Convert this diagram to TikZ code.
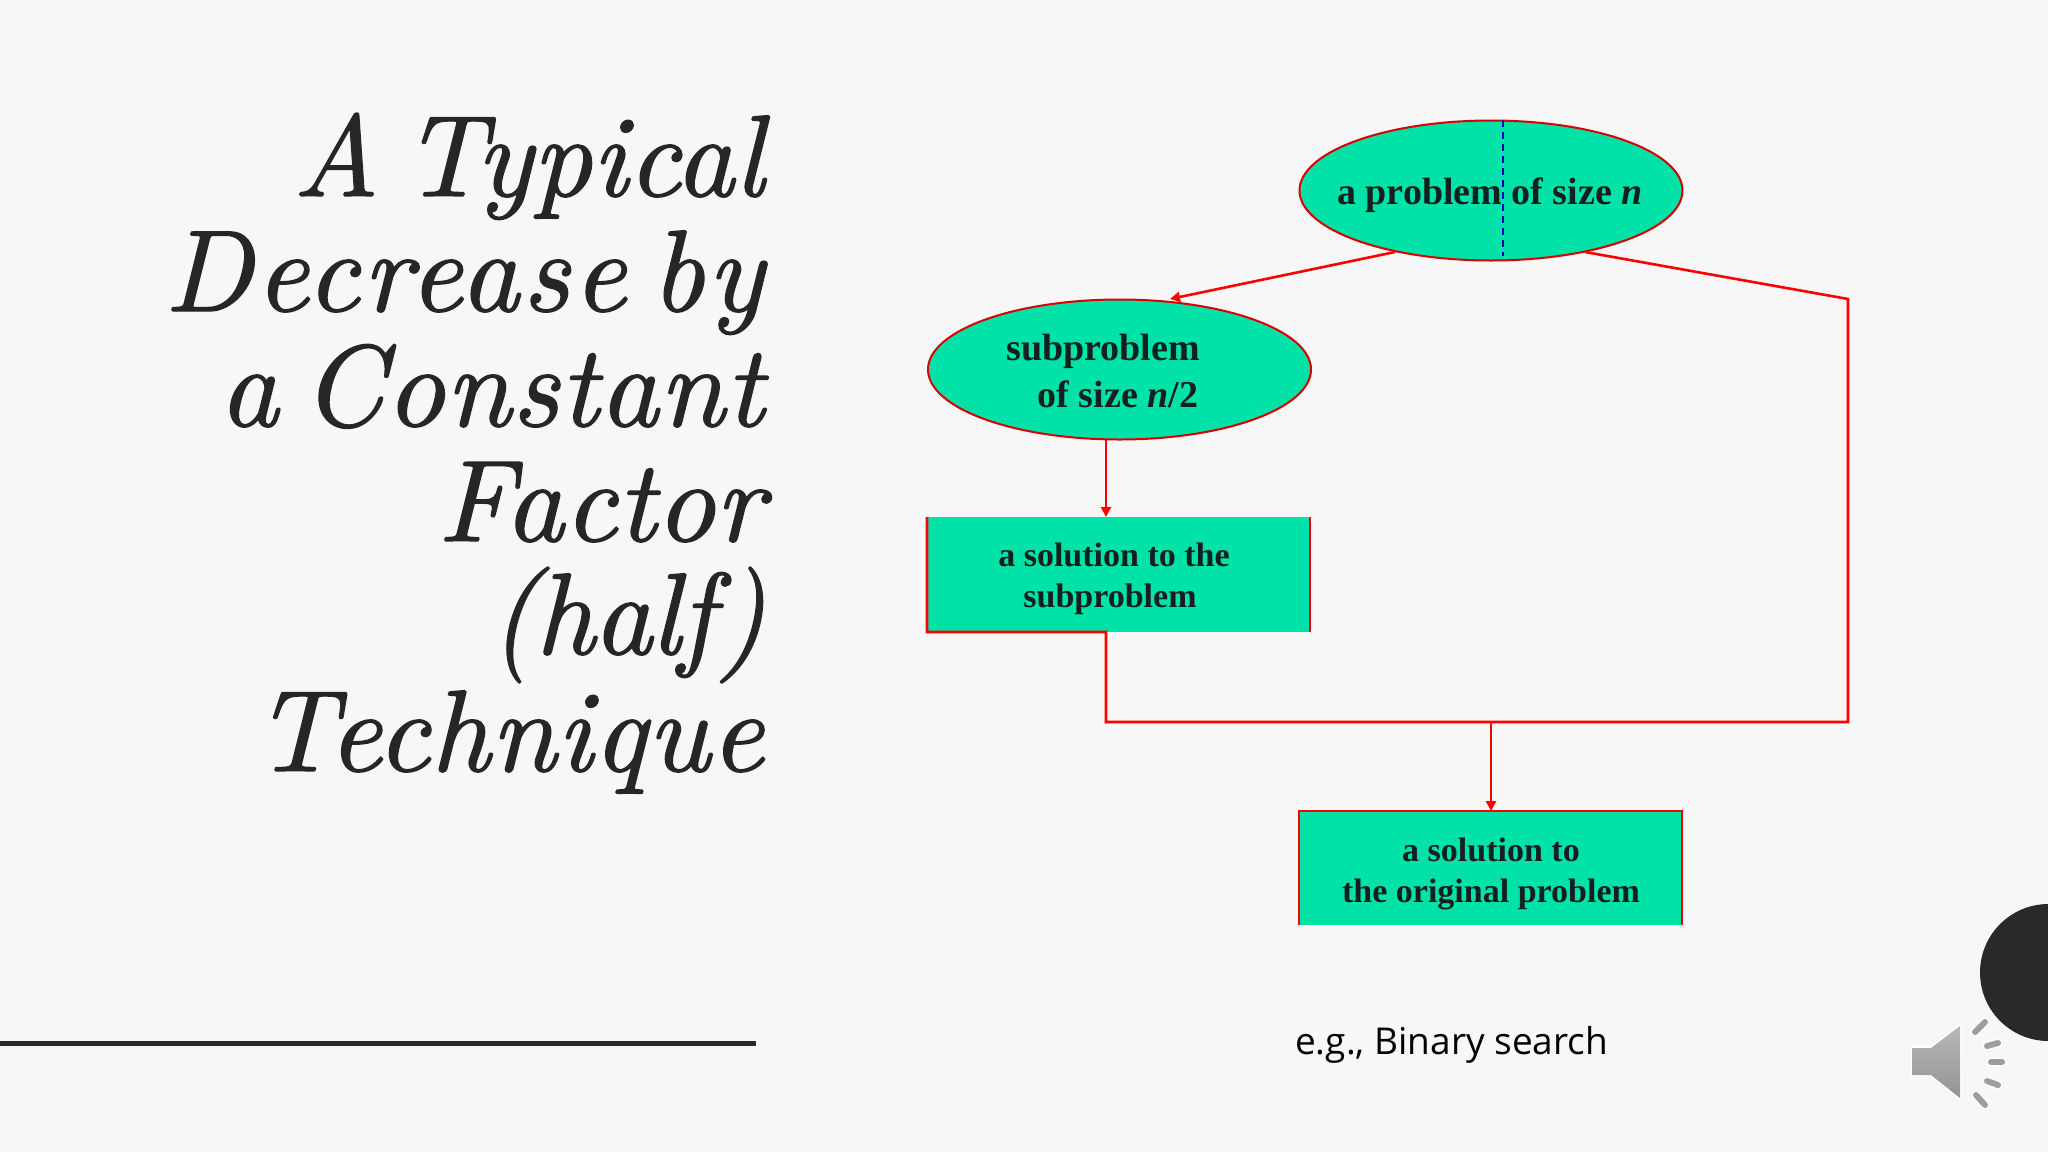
\documentclass[tikz,border=0pt]{standalone}
\usepackage{fontspec}
\setmainfont{Liberation Serif}
\newfontfamily\titlefont[Extension=.otf,UprightFont=*-regular,ItalicFont=*-italic,ItalicFeatures={FakeBold=1.1},WordSpace=0.55]{lmroman10}
\newfontfamily\notefont{Open Sans}
\usetikzlibrary{shapes.geometric,arrows.meta}
\definecolor{bgc}{HTML}{F7F7F8}
\definecolor{tealc}{HTML}{00E2A8}
\definecolor{inkc}{HTML}{13201F}
\definecolor{darkc}{HTML}{2A282B}
\definecolor{titlec}{HTML}{262626}
\tikzset{
  x=1pt,y=-1pt,
  oval/.style={ellipse,fill=tealc,draw=red!85!black,line width=2pt,minimum width=383pt,minimum height=140pt,inner sep=0pt},
  boxfill/.style={rectangle,fill=tealc,minimum width=383pt,minimum height=115pt,inner sep=0pt},
  lab/.style={font=\fontsize{34}{41}\selectfont\bfseries,text=inkc,align=center,inner sep=0pt},
  ovallab/.style={lab,font=\fontsize{38}{41}\selectfont\bfseries},
  wire/.style={draw=red,line width=2.6pt},
  arrowwire/.style={wire,-{Triangle[length=10pt,width=10pt]}},
  ttl/.style={font=\titlefont\itshape\fontsize{116}{116}\selectfont,text=titlec,anchor=base east,inner sep=0pt},
  barbase/.style={draw=white,line width=9pt,line cap=round},
  barmark/.style={draw=black!38,line width=6pt,line cap=round}
}
\begin{document}
\begin{tikzpicture}
\useasboundingbox (0,0) rectangle (2048,1152);
\fill[bgc] (0,0) rectangle (2048,1152);
\node[ttl] (t1) at (764,196) {A Typical};
\node[ttl] (t2) at (764,311) {\addfontfeature{LetterSpace=2.8}Decrease by};
\node[ttl] (t3) at (764,426) {\addfontfeature{LetterSpace=0.7}a Constant};
\node[ttl] (t4) at (764,541) {Factor};
\node[ttl] (t5) at (766,654) {\addfontfeature{LetterSpace=-1.4}(half)};
\node[ttl] (t6) at (764,771) {\addfontfeature{LetterSpace=0.7}Technique};
\draw[line width=5pt,darkc] (0,1043) -- (756,1043);
\node[oval] (p) at (1491,190.5) {};
\node[oval] (sp) at (1119.5,369.5) {};
\node[boxfill] (sb) at (1118.5,574.5) {};
\node[boxfill,minimum height=114pt] (ob) at (1490.5,868) {};
\node[ovallab] (pl) at (1490,195) {a problem of size \textit{n}};
\draw[blue!75!black,line width=1.2pt,dash pattern=on 7pt off 5pt] (1503,120) -- (1503,256);
\node[ovallab,anchor=center] (sl1) at (1103,351) {subproblem};
\node[ovallab,anchor=center] (sl2) at (1118,394) {of size \textit{n}/2};
\node[lab,anchor=center] (bl) at (1114,579) {a solution to the\\subproblem\hspace*{8pt}};
\node[lab] (ol) at (1491,874) {a solution to\\the original problem};
\node[font=\notefont\fontsize{37}{44}\selectfont,text=black,anchor=base west,inner sep=0pt] (eg) at (1295,1054) {e.g., Binary search};
\coordinate (a1) at (1395,252);
\coordinate (a2) at (1170,299);
\coordinate (b1) at (1585,252);
\coordinate (b2) at (1848,299);
\coordinate (b3) at (1848,722);
\coordinate (b4) at (1106,722);
\coordinate (b5) at (1106,632);
\coordinate (c1) at (1491,722);
\coordinate (c2) at (1491,811);
\coordinate (d1) at (1106,440);
\coordinate (d2) at (1106,517);
\draw[arrowwire] (a1) -- (a2);
\draw[wire] (b1) -- (b2) -- (b3) -- (b4) -- (b5) -- (927,632) -- (927,517);
\draw[wire] (1310,517) -- (1310,632);
\draw[arrowwire] (c1) -- (c2);
\draw[arrowwire] (d1) -- (d2);
\draw[wire] (1299,925) -- (1299,811) -- (1682,811) -- (1682,925);
\fill[darkc] (2048.5,972.5) circle[radius=68.5];
\fill[white] (1911,1046) -- (1931,1046) -- (1960,1024) -- (1962,1024) -- (1962,1100) -- (1960,1100) -- (1931,1077) -- (1911,1077) -- cycle;
\shade[top color=black!28,bottom color=black!42] (1912.5,1048) -- (1931,1048) -- (1960,1026) -- (1960,1098) -- (1931,1075) -- (1912.5,1075) -- cycle;
\foreach \xa/\ya/\xb/\yb in {1975/1032/1985/1022,1987/1046/1998/1043,1991/1062/2002/1062,1987/1081/1998/1085,1976/1095/1985/1105}{
  \draw[barbase] (\xa,\ya) -- (\xb,\yb);
  \draw[barmark] (\xa,\ya) -- (\xb,\yb);
}
\end{tikzpicture}
\end{document}
